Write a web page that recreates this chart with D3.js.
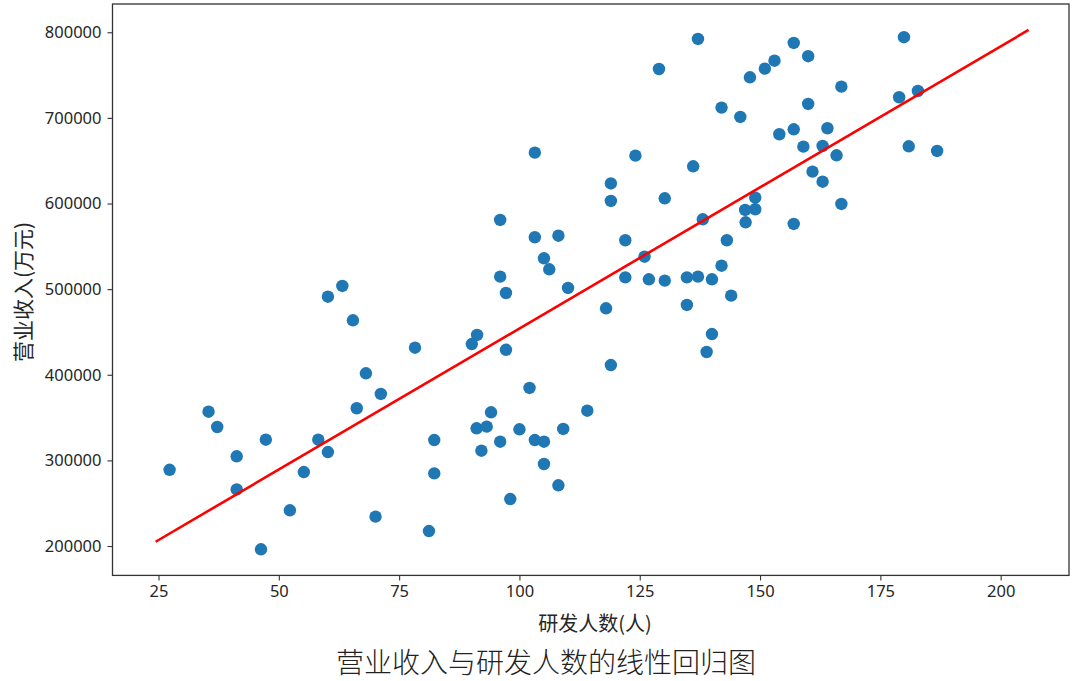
<!DOCTYPE html>
<html><head><meta charset="utf-8">
<script src="https://cdn.jsdelivr.net/npm/d3@7/dist/d3.min.js"></script>
<style>
html,body{margin:0;padding:0;background:#fff;}
svg{display:block;}
</style></head>
<body>
<svg id="chart" width="1080" height="681"></svg>
<script>
// R&D staff (persons)
const staffX = [27.3,35.4,37.2,41.25,41.25,47.3,46.3,52.3,55.2,58.2,60.2,63.2,60.2,65.4,68.1,66.2,71.2,78.3,70.1,82.3,82.3,81.2,
  103.2,124.1,136.1,119.0,119.0,130.2,149.0,146.9,149.0,147.0,138.1,96.0,103.2,108.1,122.0,143.1,105.1,106.2,126.0,142.0,
  96.0,97.2,110.1,122.0,126.9,130.2,134.8,137.1,140.0,144.0,134.8,118.0,140.0,138.9,119.0,91.2,90.1,97.2,102.1,94.1,114.1,
  91.1,93.2,100.0,109.1,96.0,103.2,105.1,92.1,105.1,108.1,98.1,
  137.1,157.0,160.0,153.0,151.0,147.9,179.9,166.9,142.0,160.0,145.9,178.9,182.8,154.0,157.0,164.0,159.0,163.0,165.9,180.9,
  186.8,160.9,163.0,166.9,157.0,129.0];
// Revenue (10k yuan)
const revenueY = [289000,356900,339000,304800,266200,324200,196200,241700,286400,324200,309800,503700,491200,463600,401700,360900,377600,431600,234300,323800,284900,217500,
  659400,655900,643500,623400,603000,606100,606800,592500,593300,578100,581600,580800,560600,562400,557100,557100,536000,523200,537900,527400,
  514600,495500,501400,513800,511500,509900,513800,514600,511500,492400,481500,477600,447600,426600,411400,446500,435900,429200,384600,356200,358000,
  337500,339400,336300,336700,321800,323800,321800,311300,295800,270900,254900,
  792200,787500,772000,766800,757500,747400,794200,736500,712000,716300,701100,724100,731400,680900,686700,687900,666400,667200,656300,666800,
  661400,637200,625500,599500,576100,757100];
// Regression line end points
const fitX = [24.4, 205.8];
const fitY = [205000, 802700];
const xTicks = [25,50,75,100,125,150,175,200];
const yTicks = [200000,300000,400000,500000,600000,700000,800000];
const xLabel = "研发人数(人)";
const yLabel = "营业收入(万元)";
const title = "营业收入与研发人数的线性回归图";

const svg = d3.select("#chart");
const L = 112.5, R = 1069, T = 4, B = 575.4;
const x = d3.scaleLinear().domain([15.44, 214.2]).range([L, R]);
const y = d3.scaleLinear().domain([165700, 833000]).range([B, T]);

const numFont = "'Noto Sans', 'DejaVu Sans', sans-serif";
const cjkFont = "'Noto Sans CJK SC', sans-serif";

// Points
svg.append("g").selectAll("circle").data(staffX.map((d,i)=>[d,revenueY[i]])).join("circle")
  .attr("cx", d=>x(d[0])).attr("cy", d=>y(d[1])).attr("r", 6.2)
  .attr("fill", "#1f77b4");

// Regression line
svg.append("path")
  .datum(fitX.map((d,i)=>[d,fitY[i]]))
  .attr("d", d3.line().x(d=>x(d[0])).y(d=>y(d[1])))
  .attr("stroke", "#ff0000").attr("stroke-width", 2.6).attr("fill", "none");

// Axes
const xAxis = svg.append("g").attr("transform", `translate(0,${B})`)
  .call(d3.axisBottom(x).tickValues(xTicks).tickSize(5).tickPadding(5).tickFormat(d3.format("d")));
const yAxis = svg.append("g").attr("transform", `translate(${L},0)`)
  .call(d3.axisLeft(y).tickValues(yTicks).tickSize(5).tickPadding(6).tickFormat(d3.format("d")));
[xAxis, yAxis].forEach(a => {
  a.select(".domain").remove();
  a.selectAll(".tick line").attr("stroke", "#333").attr("stroke-width", 1.1);
  a.selectAll(".tick text").attr("font-family", numFont).attr("font-size", 16.5).attr("fill", "#262626");
});

// Frame
svg.append("rect").attr("x", L).attr("y", T).attr("width", R - L).attr("height", B - T)
  .attr("fill", "none").attr("stroke", "#333").attr("stroke-width", 1.3);

// Labels
svg.append("text").attr("x", 595).attr("y", 622).attr("text-anchor", "middle")
  .attr("dominant-baseline", "central").attr("font-family", cjkFont).attr("font-size", 20)
  .attr("fill", "#262626").text(xLabel);
svg.append("text").attr("transform", "translate(22,292) rotate(-90)").attr("text-anchor", "middle")
  .attr("dominant-baseline", "central").attr("font-family", cjkFont).attr("font-size", 21)
  .attr("fill", "#262626").text(yLabel);
svg.append("text").attr("x", 546).attr("y", 661).attr("text-anchor", "middle")
  .attr("dominant-baseline", "central").attr("font-family", cjkFont).attr("font-size", 28)
  .attr("font-weight", 300).attr("fill", "#222").text(title);
</script>
</body></html>
